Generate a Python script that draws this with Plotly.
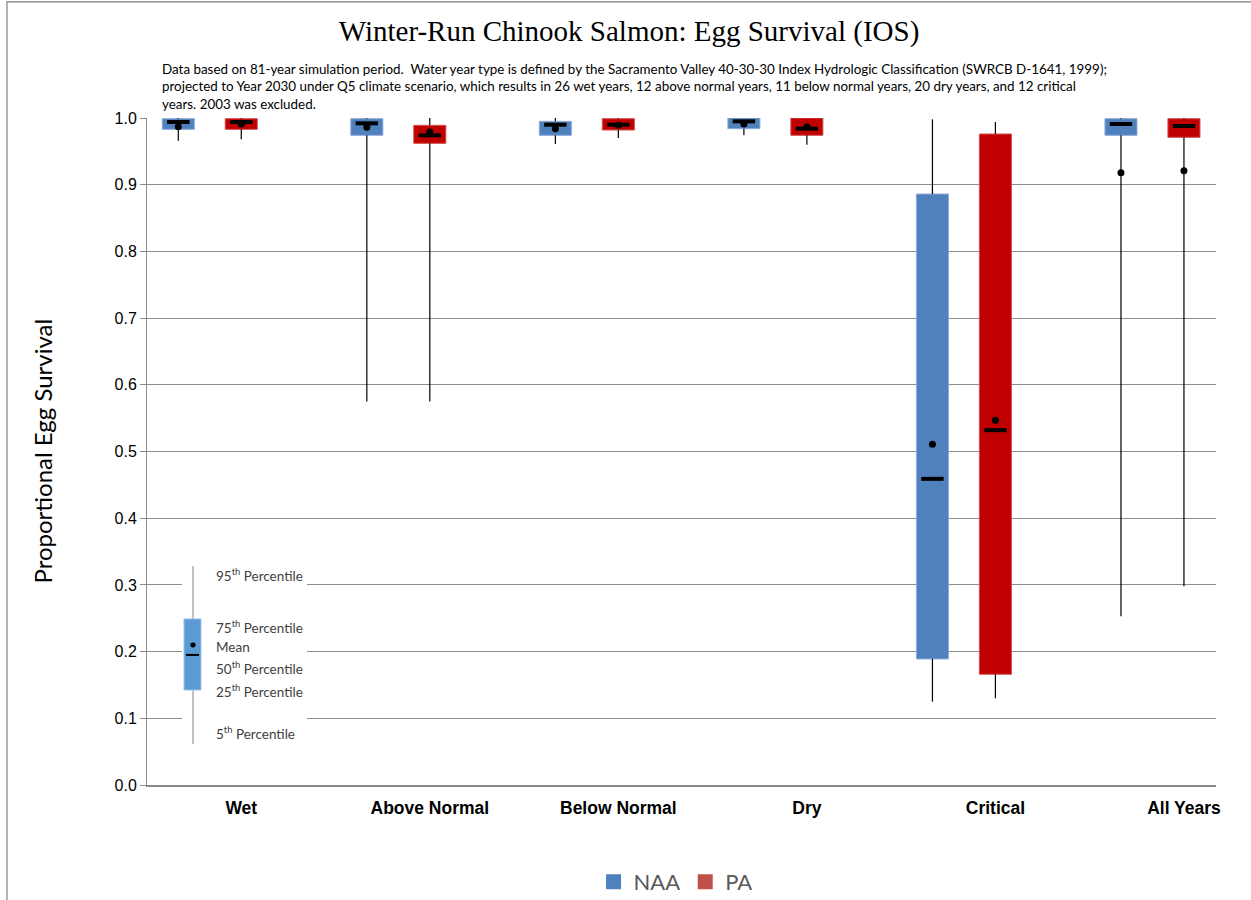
import plotly.graph_objects as go

# Water-year categories on the x axis
categories = ["Wet", "Above Normal", "Below Normal", "Dry", "Critical", "All Years"]

# NAA distribution summaries (5th, 25th, 50th, 75th, 95th percentiles and mean)
naa_p5 = [0.966, 0.575, 0.961, 0.974, 0.125, 0.253]
naa_q1 = [0.983, 0.974, 0.974, 0.984, 0.189, 0.974]
naa_med = [0.994, 0.992, 0.990, 0.995, 0.459, 0.991]
naa_mean = [0.987, 0.986, 0.984, 0.991, 0.511, 0.918]
naa_q3 = [0.999, 0.999, 0.995, 1.000, 0.886, 0.999]
naa_p95 = [1.000, 1.000, 1.000, 1.000, 0.998, 1.000]

# PA distribution summaries
pa_p5 = [0.968, 0.575, 0.970, 0.960, 0.130, 0.298]
pa_q1 = [0.983, 0.962, 0.982, 0.974, 0.166, 0.971]
pa_med = [0.994, 0.974, 0.990, 0.984, 0.532, 0.988]
pa_mean = [0.991, 0.979, 0.989, 0.987, 0.547, 0.921]
pa_q3 = [0.999, 0.989, 0.999, 1.000, 0.976, 0.999]
pa_p95 = [1.000, 1.000, 1.000, 1.000, 0.994, 1.000]

y_ticks = [0.0, 0.1, 0.2, 0.3, 0.4, 0.5, 0.6, 0.7, 0.8, 0.9, 1.0]

NAA_COLOR = "#4F81BD"
PA_COLOR = "#C00000"
NAA_OFFSET = -0.334
PA_OFFSET = 0.0
BOX_WIDTH = 0.17

fig = go.Figure()


def add_series(offset, p5, q1, med, mean, q3, p95, fill, edge):
    xs = [i + offset for i in range(len(categories))]
    # whiskers: lower (p5 -> q1) and upper (q3 -> p95) segments
    wx, wy = [], []
    for x, a, b, c, d in zip(xs, p5, q1, q3, p95):
        wx += [x, x, None, x, x, None]
        wy += [a, b, None, c, d, None]
    fig.add_trace(go.Scatter(x=wx, y=wy, mode="lines",
                             line=dict(color="black", width=1.2),
                             showlegend=False, hoverinfo="skip", cliponaxis=False))
    # interquartile box
    fig.add_trace(go.Bar(x=xs, y=[b - a for a, b in zip(q1, q3)], base=q1,
                         width=BOX_WIDTH, marker=dict(color=fill, line=dict(color=edge, width=1)),
                         showlegend=False))
    # median bar
    fig.add_trace(go.Scatter(x=xs, y=med, mode="markers",
                             marker=dict(symbol="line-ew", size=16,
                                         line=dict(color="black", width=4)),
                             showlegend=False, cliponaxis=False))
    # mean dot
    fig.add_trace(go.Scatter(x=xs, y=mean, mode="markers",
                             marker=dict(symbol="circle", size=7, color="black"),
                             showlegend=False, cliponaxis=False))


add_series(NAA_OFFSET, naa_p5, naa_q1, naa_med, naa_mean, naa_q3, naa_p95, NAA_COLOR, "#8EAADB")
add_series(PA_OFFSET, pa_p5, pa_q1, pa_med, pa_mean, pa_q3, pa_p95, PA_COLOR, "#D65050")

# legend entries
fig.add_trace(go.Scatter(x=[None], y=[None], mode="markers", name="NAA",
                         marker=dict(symbol="square", size=15, color=NAA_COLOR)))
fig.add_trace(go.Scatter(x=[None], y=[None], mode="markers", name="PA",
                         marker=dict(symbol="square", size=15, color="#C0504D")))

shapes = []
annotations = []

# outer chart frame
shapes.append(dict(type="rect", xref="paper", yref="paper", x0=-0.131, x1=1.3,
                   y0=-0.5, y1=1.174, line=dict(color="#7F7F7F", width=1.2),
                   fillcolor="rgba(0,0,0,0)", layer="above"))

# key explaining the box symbols
shapes.append(dict(type="rect", xref="paper", yref="y", x0=0.0327, x1=0.1497,
                   y0=0.05, y1=0.337, fillcolor="white", line=dict(width=0), layer="above"))
shapes.append(dict(type="line", xref="paper", yref="y", x0=0.043, x1=0.043,
                   y0=0.0615, y1=0.328, line=dict(color="#BFBFBF", width=2), layer="above"))
shapes.append(dict(type="rect", xref="paper", yref="y", x0=0.0346, x1=0.0505,
                   y0=0.1424, y1=0.249, fillcolor="#5B9BD5",
                   line=dict(color="#9DC3E6", width=1), layer="above"))
shapes.append(dict(type="line", xref="paper", yref="y", x0=0.0365, x1=0.0486,
                   y0=0.195, y1=0.195, line=dict(color="black", width=2), layer="above"))
shapes.append(dict(type="circle", xref="paper", yref="y", x0=0.0405, x1=0.0455,
                   y0=0.2063, y1=0.2137, fillcolor="black", line=dict(width=0), layer="above"))

key_labels = [
    ("95<sup>th</sup> Percentile", 0.315),
    ("75<sup>th</sup> Percentile", 0.237),
    ("Mean", 0.207),
    ("50<sup>th</sup> Percentile", 0.175),
    ("25<sup>th</sup> Percentile", 0.141),
    ("5<sup>th</sup> Percentile", 0.078),
]
for text, yv in key_labels:
    annotations.append(dict(text=text, xref="paper", yref="y", x=0.0627, y=yv,
                            xanchor="left", yanchor="middle", showarrow=False,
                            font=dict(family="Lato, Liberation Sans, sans-serif", size=13.5, color="#404040")))

# explanatory note under the title
note = ("Data based on 81-year simulation period.  Water year type is defined by the Sacramento Valley 40-30-30 "
        "Index Hydrologic Classification (SWRCB D-1641, 1999);<br>"
        "projected to Year 2030 under Q5 climate scenario, which results in 26 wet years, 12 above normal years, "
        "11 below normal years, 20 dry years, and 12 critical<br>"
        "years. 2003 was excluded.")
annotations.append(dict(text=note, xref="paper", yref="paper", x=0.0122, y=1.089,
                        xanchor="left", yanchor="top", align="left", showarrow=False,
                        font=dict(family="Lato, Liberation Sans, sans-serif", size=13.4, color="black")))

# y-axis title
annotations.append(dict(text="Proportional Egg Survival", xref="paper", yref="paper",
                        x=-0.0982, y=0.5, textangle=-90, showarrow=False,
                        xanchor="center", yanchor="middle",
                        font=dict(family="Lato, Liberation Sans, sans-serif", size=24, color="black")))

fig.update_layout(
    width=1251,
    height=900,
    margin=dict(l=147, r=35, t=118, b=115, autoexpand=False),
    paper_bgcolor="white",
    plot_bgcolor="white",
    barmode="overlay",
    title=dict(text="Winter-Run Chinook Salmon: Egg Survival (IOS)",
               x=0.5028, xanchor="center", y=1 - 31 / 900, yanchor="middle",
               font=dict(family="Liberation Serif, Times New Roman, serif", size=29, color="black")),
    xaxis=dict(range=[-0.5, 5.17], tickmode="array", tickvals=list(range(len(categories))),
               ticktext=categories, showgrid=False, zeroline=False,
               showline=True, linecolor="#868686", linewidth=2, ticks="",
               ticklabelstandoff=6,
               tickfont=dict(family="Liberation Sans, Arial, sans-serif", size=17.5,
                             color="black", weight="bold"),
               fixedrange=True),
    yaxis=dict(range=[0, 1.0], tickmode="array", tickvals=y_ticks,
               ticktext=[f"{v:.1f}" for v in y_ticks],
               showgrid=True, gridcolor="#8C8C8C", gridwidth=1, zeroline=False,
               showline=True, linecolor="#8C8C8C", linewidth=1,
               ticks="outside", ticklen=6, tickcolor="#8C8C8C",
               tickfont=dict(family="Liberation Sans, Arial, sans-serif", size=16, color="black")),
    legend=dict(orientation="h", x=0.54, xanchor="center", xref="container",
                y=1 - 882 / 900, yanchor="middle", yref="container",
                font=dict(family="Lato, Liberation Sans, sans-serif", size=22, color="#595959"),
                itemwidth=30),
    shapes=shapes,
    annotations=annotations,
)

fig.write_html("out.html")
